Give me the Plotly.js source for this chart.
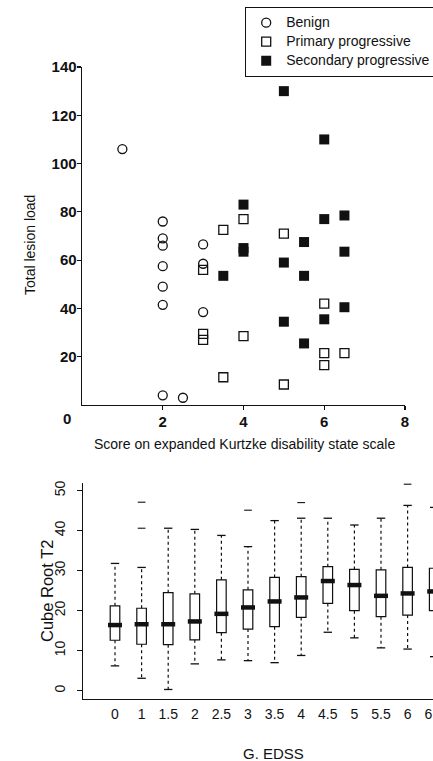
<!DOCTYPE html>
<html><head><meta charset="utf-8">
<script src="https://cdn.plot.ly/plotly-3.0.1.min.js"></script>
<style>
html,body{margin:0;padding:0;overflow:hidden;background:#fff;width:433px;height:761px}
#chart{width:470px;height:761px}
</style>
</head><body><div id="chart"></div>
<script>
// ---- Top panel data: lesion load vs EDSS ----
const benignX = [1, 2, 2, 2, 2, 2, 2, 2, 2.5, 3, 3, 3];
const benignY = [106, 76, 69, 66, 57.5, 49, 41.5, 4, 3, 66.5, 58.5, 38.5];
const primaryX = [3, 3, 3, 3.5, 3.5, 4, 4, 5, 5, 6, 6, 6, 6.5];
const primaryY = [56, 29.5, 27, 72.5, 11.5, 77, 28.5, 71, 8.5, 42, 21.5, 16.5, 21.5];
const secondaryX = [3.5, 4, 4, 4, 5, 5, 5, 5.5, 5.5, 5.5, 6, 6, 6, 6.5, 6.5, 6.5];
const secondaryY = [53.5, 83, 65, 63.5, 130, 59, 34.5, 67.5, 53.5, 25.5, 110, 77, 35.5, 78.5, 63.5, 40.5];
const groupNames = ['Benign', 'Primary progressive', 'Secondary progressive'];
const topXTicks = [2, 4, 6, 8];
const topYTicks = [20, 40, 60, 80, 100, 120, 140];

// ---- Bottom panel data: box plot of cube root T2 by EDSS ----
const edss = ['0', '1', '1.5', '2', '2.5', '3', '3.5', '4', '4.5', '5', '5.5', '6', '6.5'];
const lowerWhisker = [6.2, 3.1, 0.3, 6.7, 7.7, 7.5, 7.0, 8.8, 14.6, 13.2, 10.7, 10.4, 8.5];
const q1 = [12.6, 11.6, 11.5, 12.7, 14.5, 15.4, 16.0, 18.3, 21.8, 20.0, 18.5, 18.9, 20.0];
const medians = [16.4, 16.6, 16.6, 17.3, 19.2, 20.8, 22.3, 23.3, 27.4, 26.4, 23.7, 24.3, 24.8];
const q3 = [21.2, 20.6, 24.5, 24.2, 27.7, 25.2, 28.3, 28.5, 31.0, 30.3, 30.2, 30.8, 30.6];
const upperWhisker = [31.8, 30.8, 40.6, 40.3, 38.8, 36.0, 42.5, 43.1, 43.1, 41.4, 43.1, 46.3, 45.8];
const outlierX = ['1', '1', '3', '4', '6'];
const outlierY = [47.1, 40.6, 45.1, 47.0, 51.6];
const bottomYTicks = [0, 10, 20, 30, 40, 50];

const W = 470, H = 761;
const px = v => v / W;
const py = v => 1 - v / H;
const FONT = 'Liberation Sans, Arial, Helvetica, sans-serif';
const INK = '#111';
const legendName = s => '<span style="font-size:14px">' + s + '</span>';

// whisker segments built from the data arrays
const upSegX = [], upSegY = [], loSegX = [], loSegY = [];
edss.forEach((c, i) => {
  upSegX.push(c, c, null); upSegY.push(q3[i], upperWhisker[i], null);
  loSegX.push(c, c, null); loSegY.push(q1[i], lowerWhisker[i], null);
});

const traces = [
  {type: 'scatter', mode: 'markers', name: legendName(groupNames[0]), x: benignX, y: benignY, xaxis: 'x', yaxis: 'y',
   marker: {symbol: 'circle-open', size: 9, color: INK, line: {width: 1.3, color: INK}}},
  {type: 'scatter', mode: 'markers', name: legendName(groupNames[1]), x: primaryX, y: primaryY, xaxis: 'x', yaxis: 'y',
   marker: {symbol: 'square-open', size: 9, color: INK, line: {width: 1.3, color: INK}}},
  {type: 'scatter', mode: 'markers', name: legendName(groupNames[2]), x: secondaryX, y: secondaryY, xaxis: 'x', yaxis: 'y',
   marker: {symbol: 'square', size: 10, color: INK, line: {width: 0}}},

  {type: 'scatter', mode: 'lines', x: upSegX.concat(loSegX), y: upSegY.concat(loSegY), xaxis: 'x2', yaxis: 'y2',
   showlegend: false, line: {color: INK, width: 1.2, dash: 'dot'}},
  {type: 'box', x: edss, q1: q1, median: medians, q3: q3, lowerfence: q1, upperfence: q3,
   xaxis: 'x2', yaxis: 'y2', showlegend: false, width: 0.36, boxpoints: false,
   fillcolor: '#fff', line: {color: INK, width: 1.2}, whiskerwidth: 0},
  {type: 'scatter', mode: 'markers', x: edss.concat(edss), y: lowerWhisker.concat(upperWhisker),
   xaxis: 'x2', yaxis: 'y2', showlegend: false,
   marker: {symbol: 'line-ew', size: 6, line: {color: INK, width: 1.3}}},
  {type: 'scatter', mode: 'markers', x: edss, y: medians, xaxis: 'x2', yaxis: 'y2', showlegend: false,
   marker: {symbol: 'line-ew', size: 10, line: {color: INK, width: 4.5}}},
  {type: 'scatter', mode: 'markers', x: outlierX, y: outlierY, xaxis: 'x2', yaxis: 'y2', showlegend: false,
   marker: {symbol: 'line-ew', size: 5.5, line: {color: INK, width: 1.1}}}
];

const boldTick = {family: FONT, size: 15, color: INK, weight: 'bold'};
const layout = {
  width: W, height: H, autosize: false,
  margin: {l: 0, r: 0, t: 0, b: 0, pad: 0},
  paper_bgcolor: '#fff', plot_bgcolor: 'rgba(0,0,0,0)',
  font: {family: FONT, color: INK, size: 14},
  hovermode: false,
  showlegend: true,
  legend: {x: px(245), y: py(7), xanchor: 'left', yanchor: 'top',
    bgcolor: '#fff', bordercolor: INK, borderwidth: 1.2,
    font: {family: FONT, size: 12, color: INK}, tracegroupgap: 0},
  xaxis: {domain: [px(82), px(405)], range: [0, 8], anchor: 'y',
    tickvals: topXTicks, ticks: 'outside', ticklen: 4, tickwidth: 1.2, tickcolor: INK,
    showline: true, linecolor: INK, linewidth: 1.4, showgrid: false, zeroline: false,
    ticklabelstandoff: -1, tickfont: boldTick, fixedrange: true},
  yaxis: {domain: [py(405), py(67)], range: [0, 140], anchor: 'x',
    tickvals: topYTicks, ticks: 'outside', ticklen: 4, tickwidth: 1.2, tickcolor: INK,
    showline: true, linecolor: INK, linewidth: 1.4, showgrid: false, zeroline: false,
    ticklabelstandoff: -3, tickfont: boldTick, fixedrange: true},
  xaxis2: {domain: [px(83), 1], anchor: 'y2', type: 'category', categoryarray: edss, categoryorder: 'array',
    range: [-1.203, 13.346], ticks: '', showline: true, linecolor: INK, linewidth: 1.2,
    showgrid: false, zeroline: false, ticklabelstandoff: 2,
    tickfont: {family: FONT, size: 14, color: INK}, fixedrange: true},
  yaxis2: {domain: [py(699), py(483)], range: [-2.08, 51.9], anchor: 'x2',
    tickvals: bottomYTicks, tickangle: -90, ticks: 'outside', ticklen: 5, tickwidth: 1, tickcolor: INK,
    showline: true, linecolor: INK, linewidth: 1.2, showgrid: false, zeroline: false,
    ticklabelstandoff: 6, tickfont: {family: FONT, size: 14, color: INK}, fixedrange: true},
  annotations: [
    {text: '0', xref: 'paper', yref: 'paper', x: px(67), y: py(419), showarrow: false,
     xanchor: 'center', yanchor: 'middle', font: boldTick},
    {text: 'Total lesion load', xref: 'paper', yref: 'paper', x: px(30), y: py(245), textangle: -90,
     showarrow: false, xanchor: 'center', yanchor: 'middle', font: {family: FONT, size: 14, color: INK}},
    {text: 'Score on expanded Kurtzke disability state scale', xref: 'paper', yref: 'paper',
     x: px(244), y: py(444), showarrow: false, xanchor: 'center', yanchor: 'middle',
     font: {family: FONT, size: 14, color: INK}},
    {text: 'Cube Root T2', xref: 'paper', yref: 'paper', x: px(47), y: py(591), textangle: -90,
     showarrow: false, xanchor: 'center', yanchor: 'middle', font: {family: FONT, size: 16.5, color: INK}},
    {text: 'G. EDSS', xref: 'paper', yref: 'paper', x: px(273), y: py(753), showarrow: false,
     xanchor: 'center', yanchor: 'middle', font: {family: FONT, size: 15, color: INK}}
  ]
};

Plotly.newPlot('chart', traces, layout, {staticPlot: true, displayModeBar: false});
</script>
</body></html>
